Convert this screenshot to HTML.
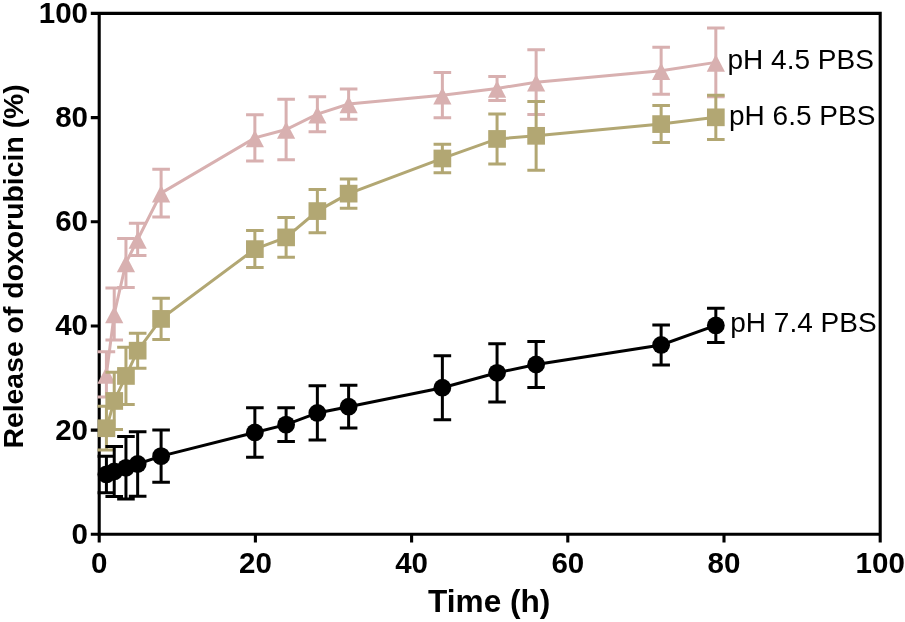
<!DOCTYPE html>
<html><head><meta charset="utf-8"><style>
html,body{margin:0;padding:0;background:#fff;width:905px;height:622px;overflow:hidden}
svg{display:block;will-change:transform}
</style></head><body>
<svg width="905" height="622" viewBox="0 0 905 622">
<rect width="905" height="622" fill="#fff"/>
<path fill="none" stroke="#000" stroke-width="3.1" stroke-linejoin="miter" stroke-linecap="butt" d="M99.20 13.40V534.30H880.20M90.8 13.40H880.20V542.5"/><path fill="none" stroke="#000" stroke-width="3.1" stroke-linecap="butt" d="M90.8 534.30H99.20M90.8 430.12H99.20M90.8 325.94H99.20M90.8 221.76H99.20M90.8 117.58H99.20M99.20 534.30V542.5M255.40 534.30V542.5M411.60 534.30V542.5M567.80 534.30V542.5M724.00 534.30V542.5"/>
<polyline fill="none" stroke="#d8b0b0" stroke-width="3.0" points="106.41,374.38 114.23,313.96 125.95,262.91 137.66,239.47 161.10,193.11 254.86,137.90 286.11,129.56 317.36,114.19 348.62,104.04 442.37,95.18 497.06,88.41 536.13,82.16 661.14,70.70 715.83,62.36"/>
<path fill="none" stroke="#d8b0b0" stroke-width="3.0" stroke-linecap="butt" d="M106.41 351.72V397.04M97.61 351.72H115.21M97.61 397.04H115.21M114.23 287.91V340.00M105.43 287.91H123.03M105.43 340.00H123.03M125.95 238.43V287.39M117.15 238.43H134.75M117.15 287.39H134.75M137.66 223.32V255.62M128.86 223.32H146.47M128.86 255.62H146.47M161.10 169.15V217.07M152.30 169.15H169.90M152.30 217.07H169.90M254.86 114.72V161.08M246.06 114.72H263.66M246.06 161.08H263.66M286.11 99.35V159.77M277.31 99.35H294.91M277.31 159.77H294.91M317.36 96.74V131.64M308.56 96.74H326.16M308.56 131.64H326.16M348.62 88.93V119.14M339.82 88.93H357.42M339.82 119.14H357.42M442.37 72.52V117.84M433.57 72.52H451.17M433.57 117.84H451.17M497.06 76.43V100.39M488.26 76.43H505.86M488.26 100.39H505.86M536.13 49.86V114.45M527.33 49.86H544.93M527.33 114.45H544.93M661.14 47.26V94.14M652.34 47.26H669.94M652.34 94.14H669.94M715.83 27.99V96.74M707.03 27.99H724.63M707.03 96.74H724.63"/>
<path fill="#d8b0b0" d="M106.41 366.38L115.51 383.68H97.31Z"/>
<path fill="#d8b0b0" d="M114.23 305.96L123.33 323.26H105.13Z"/>
<path fill="#d8b0b0" d="M125.95 254.91L135.05 272.21H116.85Z"/>
<path fill="#d8b0b0" d="M137.66 231.47L146.76 248.77H128.56Z"/>
<path fill="#d8b0b0" d="M161.10 185.11L170.20 202.41H152.00Z"/>
<path fill="#d8b0b0" d="M254.86 129.90L263.96 147.20H245.76Z"/>
<path fill="#d8b0b0" d="M286.11 121.56L295.21 138.86H277.01Z"/>
<path fill="#d8b0b0" d="M317.36 106.19L326.46 123.49H308.26Z"/>
<path fill="#d8b0b0" d="M348.62 96.04L357.72 113.34H339.52Z"/>
<path fill="#d8b0b0" d="M442.37 87.18L451.47 104.48H433.27Z"/>
<path fill="#d8b0b0" d="M497.06 80.41L506.16 97.71H487.96Z"/>
<path fill="#d8b0b0" d="M536.13 74.16L545.23 91.46H527.03Z"/>
<path fill="#d8b0b0" d="M661.14 62.70L670.24 80.00H652.04Z"/>
<path fill="#d8b0b0" d="M715.83 54.36L724.93 71.66H706.73Z"/>
<polyline fill="none" stroke="#b2a773" stroke-width="3.0" points="106.41,428.24 114.23,400.95 125.95,375.95 137.66,350.68 161.10,318.91 254.86,249.11 286.11,237.39 317.36,211.08 348.62,193.63 442.37,158.47 497.06,138.94 536.13,135.81 661.14,124.09 715.83,117.32"/>
<path fill="none" stroke="#b2a773" stroke-width="3.0" stroke-linecap="butt" d="M106.41 406.37V450.12M97.61 406.37H115.21M97.61 450.12H115.21M114.23 372.30V429.60M105.43 372.30H123.03M105.43 429.60H123.03M125.95 347.30V404.60M117.15 347.30H134.75M117.15 404.60H134.75M137.66 333.23V368.13M128.86 333.23H146.47M128.86 368.13H146.47M161.10 298.33V339.48M152.30 298.33H169.90M152.30 339.48H169.90M254.86 230.62V267.60M246.06 230.62H263.66M246.06 267.60H263.66M286.11 217.59V257.18M277.31 217.59H294.91M277.31 257.18H294.91M317.36 189.46V232.70M308.56 189.46H326.16M308.56 232.70H326.16M348.62 179.05V208.22M339.82 179.05H357.42M339.82 208.22H357.42M442.37 144.15V172.80M433.57 144.15H451.17M433.57 172.80H451.17M497.06 113.93V163.94M488.26 113.93H505.86M488.26 163.94H505.86M536.13 101.43V170.19M527.33 101.43H544.93M527.33 170.19H544.93M661.14 105.60V142.58M652.34 105.60H669.94M652.34 142.58H669.94M715.83 95.18V139.46M707.03 95.18H724.63M707.03 139.46H724.63"/>
<rect x="97.56" y="419.39" width="17.70" height="17.70" fill="#b2a773"/>
<rect x="105.38" y="392.10" width="17.70" height="17.70" fill="#b2a773"/>
<rect x="117.10" y="367.10" width="17.70" height="17.70" fill="#b2a773"/>
<rect x="128.81" y="341.83" width="17.70" height="17.70" fill="#b2a773"/>
<rect x="152.25" y="310.06" width="17.70" height="17.70" fill="#b2a773"/>
<rect x="246.01" y="240.26" width="17.70" height="17.70" fill="#b2a773"/>
<rect x="277.26" y="228.54" width="17.70" height="17.70" fill="#b2a773"/>
<rect x="308.51" y="202.23" width="17.70" height="17.70" fill="#b2a773"/>
<rect x="339.77" y="184.78" width="17.70" height="17.70" fill="#b2a773"/>
<rect x="433.52" y="149.62" width="17.70" height="17.70" fill="#b2a773"/>
<rect x="488.21" y="130.09" width="17.70" height="17.70" fill="#b2a773"/>
<rect x="527.28" y="126.96" width="17.70" height="17.70" fill="#b2a773"/>
<rect x="652.29" y="115.24" width="17.70" height="17.70" fill="#b2a773"/>
<rect x="706.98" y="108.47" width="17.70" height="17.70" fill="#b2a773"/>
<polyline fill="none" stroke="#000" stroke-width="3.0" points="106.41,474.40 114.23,471.43 125.95,467.83 137.66,463.98 161.10,456.16 254.86,432.46 286.11,424.65 317.36,412.93 348.62,406.68 442.37,387.67 497.06,372.82 536.13,364.49 661.14,344.95 715.83,325.42"/>
<path fill="none" stroke="#000" stroke-width="3.0" stroke-linecap="butt" d="M106.41 456.16V492.63M97.61 456.16H115.21M97.61 492.63H115.21M114.23 446.42V496.43M105.43 446.42H123.03M105.43 496.43H123.03M125.95 436.58V499.09M117.15 436.58H134.75M117.15 499.09H134.75M137.66 431.68V496.27M128.86 431.68H146.47M128.86 496.27H146.47M161.10 430.12V482.21M152.30 430.12H169.90M152.30 482.21H169.90M254.86 407.72V457.21M246.06 407.72H263.66M246.06 457.21H263.66M286.11 407.72V441.58M277.31 407.72H294.91M277.31 441.58H294.91M317.36 385.84V440.02M308.56 385.84H326.16M308.56 440.02H326.16M348.62 385.32V428.04M339.82 385.32H357.42M339.82 428.04H357.42M442.37 355.63V419.70M433.57 355.63H451.17M433.57 419.70H451.17M497.06 343.65V401.99M488.26 343.65H505.86M488.26 401.99H505.86M536.13 341.57V387.41M527.33 341.57H544.93M527.33 387.41H544.93M661.14 324.90V365.01M652.34 324.90H669.94M652.34 365.01H669.94M715.83 308.23V342.61M707.03 308.23H724.63M707.03 342.61H724.63"/>
<circle cx="106.41" cy="474.40" r="8.9" fill="#000"/>
<circle cx="114.23" cy="471.43" r="8.9" fill="#000"/>
<circle cx="125.95" cy="467.83" r="8.9" fill="#000"/>
<circle cx="137.66" cy="463.98" r="8.9" fill="#000"/>
<circle cx="161.10" cy="456.16" r="8.9" fill="#000"/>
<circle cx="254.86" cy="432.46" r="8.9" fill="#000"/>
<circle cx="286.11" cy="424.65" r="8.9" fill="#000"/>
<circle cx="317.36" cy="412.93" r="8.9" fill="#000"/>
<circle cx="348.62" cy="406.68" r="8.9" fill="#000"/>
<circle cx="442.37" cy="387.67" r="8.9" fill="#000"/>
<circle cx="497.06" cy="372.82" r="8.9" fill="#000"/>
<circle cx="536.13" cy="364.49" r="8.9" fill="#000"/>
<circle cx="661.14" cy="344.95" r="8.9" fill="#000"/>
<circle cx="715.83" cy="325.42" r="8.9" fill="#000"/>
<text x="88" y="543.80" text-anchor="end" font-family="Liberation Sans" font-weight="bold" font-size="29.5">0</text>
<text x="88" y="439.62" text-anchor="end" font-family="Liberation Sans" font-weight="bold" font-size="29.5">20</text>
<text x="88" y="335.44" text-anchor="end" font-family="Liberation Sans" font-weight="bold" font-size="29.5">40</text>
<text x="88" y="231.26" text-anchor="end" font-family="Liberation Sans" font-weight="bold" font-size="29.5">60</text>
<text x="88" y="127.08" text-anchor="end" font-family="Liberation Sans" font-weight="bold" font-size="29.5">80</text>
<text x="88" y="22.90" text-anchor="end" font-family="Liberation Sans" font-weight="bold" font-size="29.5">100</text>
<text x="99.20" y="573.3" text-anchor="middle" font-family="Liberation Sans" font-weight="bold" font-size="29.5">0</text>
<text x="255.40" y="573.3" text-anchor="middle" font-family="Liberation Sans" font-weight="bold" font-size="29.5">20</text>
<text x="411.60" y="573.3" text-anchor="middle" font-family="Liberation Sans" font-weight="bold" font-size="29.5">40</text>
<text x="567.80" y="573.3" text-anchor="middle" font-family="Liberation Sans" font-weight="bold" font-size="29.5">60</text>
<text x="724.00" y="573.3" text-anchor="middle" font-family="Liberation Sans" font-weight="bold" font-size="29.5">80</text>
<text x="880.20" y="573.3" text-anchor="middle" font-family="Liberation Sans" font-weight="bold" font-size="29.5">100</text>
<text transform="translate(23.0 266.4) rotate(-90)" text-anchor="middle" font-family="Liberation Sans" font-weight="bold" font-size="28.4">Release of doxorubicin (%)</text>
<text x="489.2" y="612.4" text-anchor="middle" font-family="Liberation Sans" font-weight="bold" font-size="31.6">Time (h)</text>
<text x="727.5" y="68.7" font-family="Liberation Sans" font-size="28">pH 4.5 PBS</text>
<text x="729" y="124.5" font-family="Liberation Sans" font-size="28">pH 6.5 PBS</text>
<text x="730.3" y="331.9" font-family="Liberation Sans" font-size="28">pH 7.4 PBS</text>
</svg>
</body></html>
